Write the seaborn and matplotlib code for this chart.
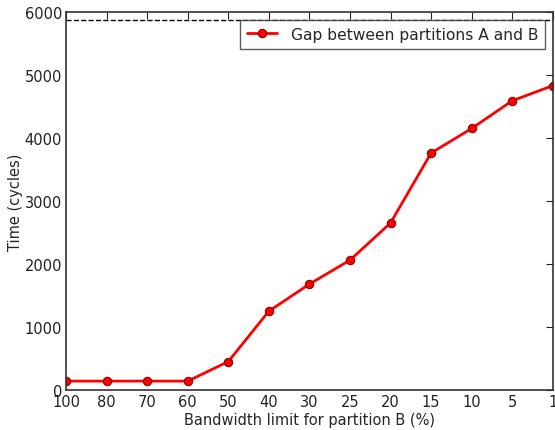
import matplotlib
matplotlib.use("Agg")
import matplotlib.pyplot as plt
import seaborn as sns
import pandas as pd

# bandwidth limits (categorical, equally spaced) and measured gap
limits = ["100", "80", "70", "60", "50", "40", "30", "25", "20", "15", "10", "5", "1"]
gap = [140, 140, 140, 140, 450, 1250, 1680, 2060, 2650, 3760, 4150, 4590, 4830]
ref_level = 5870

df = pd.DataFrame({"pos": range(len(limits)), "gap": gap})

sns.set_style("white")
plt.rcParams["font.family"] = ["DejaVu Sans"]

fig = plt.figure(figsize=(5.55, 4.31), dpi=100)
ax = fig.add_axes([0.119, 0.093, 0.877, 0.877])

sns.lineplot(data=df, x="pos", y="gap", ax=ax, color="red", linewidth=2,
             marker="o", markersize=6, markeredgecolor="#880000",
             markeredgewidth=0.8, label="Gap between partitions A and B")
ax.axhline(ref_level, color="black", linestyle="--", linewidth=1)

ax.set_xlim(0, len(limits) - 1)
ax.set_ylim(0, 6000)
ax.set_xticks(range(len(limits)))
ax.set_xticklabels(limits)
ax.set_yticks(range(0, 6001, 1000))
ax.tick_params(direction="in", top=True, right=True, length=5, labelsize=10.5,
               colors="#222222", pad=3)
for s in ax.spines.values():
    s.set_color("#333333")
    s.set_linewidth(1.2)

ax.set_xlabel("Bandwidth limit for partition B (%)", fontsize=10.5, labelpad=2)
ax.set_ylabel("Time (cycles)", fontsize=10.5, labelpad=1)

leg = ax.legend(loc="upper right", fontsize=11.2, frameon=True, fancybox=False,
                borderaxespad=0.5, handlelength=1.9, borderpad=0.45,
                handletextpad=0.9)
leg.get_frame().set_edgecolor("#333333")
leg.get_frame().set_linewidth(1.0)

fig.savefig("out.png", dpi=100)
